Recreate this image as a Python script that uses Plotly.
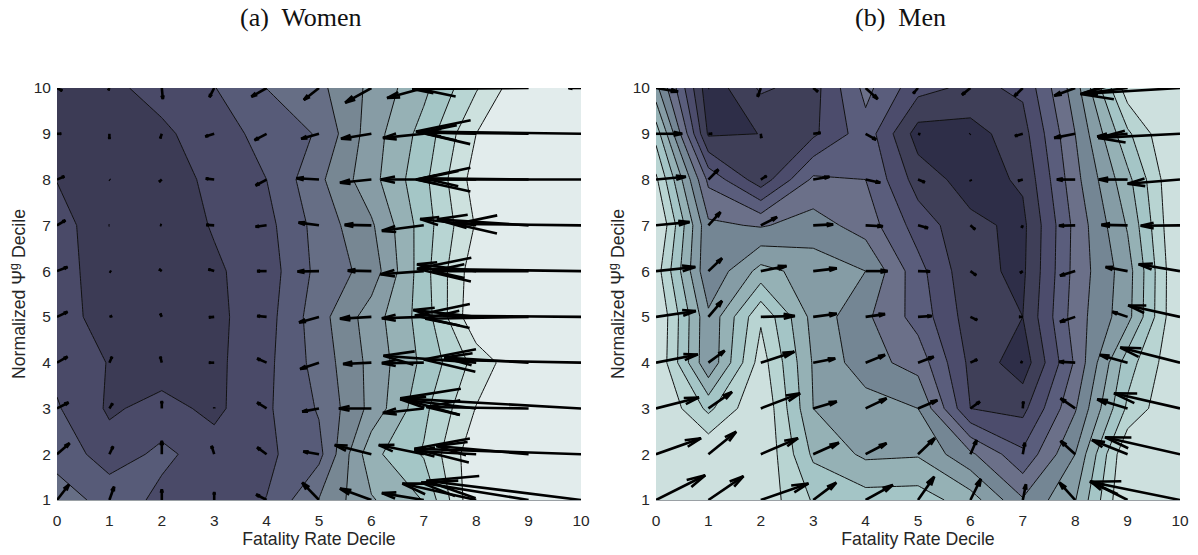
import plotly.graph_objects as go

x_deciles = [0, 1, 2, 3, 4, 5, 6, 7, 8, 9, 10]
y_deciles = [1, 2, 3, 4, 5, 6, 7, 8, 9, 10]
levels_start, levels_end = 1, 10

women_z = [
    [3.4, 2.7, 1.7, 1.5, 2.02, 4.05, 5.9, 7.05, 11.0, 11.2, 11.5],
    [2.7, 1.45, 2.25, 1.45, 1.8, 2.7, 6.7, 8.1, 10.8, 11.2, 11.5],
    [2.1, .85, 1.35, .75, 1.85, 3.1, 5.3, 7.75, 10.05, 11.2, 11.5],
    [1.7, .95, .45, .75, 1.75, 3.4, 5.3, 7.25, 9.35, 11.05, 11.5],
    [1.4, .6, .4, .75, 1.6, 3.6, 5.5, 7.45, 10.9, 11.2, 11.5],
    [1.35, .55, .4, .85, 1.5, 3.3, 4.4, 7.6, 10.7, 11.2, 11.5],
    [1.3, .5, .4, 1.08, 1.68, 3.4, 4.85, 7.5, 10.1, 11.2, 11.5],
    [.98, .7, .5, 1.25, 2.0, 3.78, 5.65, 7.73, 10.5, 11.2, 11.5],
    [.3, .5, .8, 1.54, 2.33, 3.1, 5.52, 7.38, 10.0, 11.2, 11.5],
    [.4, .77, 1.37, 1.96, 3.01, 3.75, 5.24, 6.75, 8.9, 11.1, 11.5],
]
women_u = [
    [.23, .09, 0, 0, -.2, -.32, -.6, -.8, -1.41, -2.05, -2.95],
    [.24, .07, 0, -.05, -.18, -.3, -.7, -.86, -1.18, -1.76, -3.18],
    [.22, .06, 0, 0, -.18, -.32, -.62, -.78, -1.45, -1.95, -3.45],
    [.2, .05, -.03, -.1, -.18, -.36, -.54, -.8, -1.77, -1.61, -3.0],
    [.2, .05, -.03, -.1, -.18, -.38, -.6, -.8, -1.2, -1.97, -3.17],
    [.2, .03, -.05, -.11, -.18, -.41, -.45, -.83, -1.13, -1.83, -3.13],
    [.16, -.01, -.03, -.15, -.21, -.39, -.51, -.8, -1.07, -1.75, -2.39],
    [.14, .01, -.05, -.16, -.21, -.43, -.6, -.82, -1.13, -2.0, -3.15],
    [.08, 0, -.03, -.17, -.23, -.34, -.58, -.78, -1.0, -2.05, -3.15],
    [.1, -.02, .02, -.09, -.29, -.29, -.5, -.7, -1.22, -2.08, -.24],
]
women_v = [
    [.34, .29, .23, .17, .12, .38, .25, .15, .36, .38, .42],
    [.24, .17, .29, .18, .15, .06, .2, .2, .07, .18, .12],
    [.13, .11, .16, .02, .13, -.07, 0, -.1, .2, .03, .22],
    [.13, .13, .13, 0, .09, -.14, -.03, -.01, .15, .11, .07],
    [.11, .02, .07, -.01, .02, -.12, -.04, -.03, .15, -.04, .03],
    [.09, -.02, .04, .04, 0, -.01, .01, -.07, .15, 0, .05],
    [.11, 0, .01, .01, -.03, .06, .01, -.12, .14, .13, .03],
    [.07, -.01, -.05, .02, -.13, .03, -.07, 0, 0, .03, 0],
    [0, -.11, -.1, -.06, -.14, -.11, -.11, -.09, .03, .03, .05],
    [-.06, -.05, -.24, -.2, -.19, -.26, -.32, -.22, -.02, -.02, 0],
]

men_z = [
    [11.3, 11.2, 10.7, 8.9, 8.45, 8.5, 7.5, 5.1, 6.95, 11.2, 11.3],
    [11.3, 11.0, 11.0, 7.8, 6.8, 6.9, 5.2, 3.2, 6.0, 11.0, 11.3],
    [11.2, 8.75, 11.0, 7.0, 6.5, 6.0, 2.0, 1.7, 4.9, 9.2, 11.2],
    [11.0, 6.15, 10.5, 6.9, 5.4, 4.6, 1.75, .4, 4.15, 8.55, 11.0],
    [11.1, 6.2, 9.85, 6.65, 5.2, 3.6, 1.5, 1.0, 4.5, 6.65, 11.2],
    [10.5, 5.15, 7.35, 6.55, 6.0, 3.35, 1.25, .82, 4.35, 6.55, 11.2],
    [11.27, 5.2, 4.9, 5.45, 4.55, 2.55, 1.25, .75, 4.3, 7.1, 11.3],
    [10.2, 3.75, 1.4, 4.2, 4.0, 1.55, .55, 1.15, 4.67, 7.7, 11.3],
    [8.6, .85, 1.01, 1.8, 3.6, .55, .6, 1.6, 5.0, 8.8, 11.5],
    [6.3, .3, 2.15, 1.6, 4.3, 2.35, 1.75, 2.18, 5.52, 10.6, 11.2],
]
men_u = [
    [.94, .67, .91, .44, .52, .31, .2, .06, -.3, -.71, -1.72],
    [.86, .53, .71, .49, .4, .32, .12, .04, -.28, -.68, -1.43],
    [.82, .45, .75, .45, .4, .37, .18, .01, -.28, -.58, -1.26],
    [.8, .31, .64, .42, .37, .3, .13, -.04, -.31, -.53, -1.14],
    [.76, .26, .65, .45, .37, .26, .13, -.07, -.29, -.29, -.99],
    [.75, .26, .49, .45, .42, .23, .11, -.05, -.29, -.42, -.79],
    [.64, .23, .31, .38, .33, .19, .09, -.02, -.31, -.5, -.75],
    [.57, .19, .11, .31, .28, .13, .01, -.09, -.35, -.55, -1.0],
    [.5, .07, .01, .14, .2, .04, -.01, -.15, -.4, -.58, -1.56],
    [.42, .01, -.06, .09, .23, -.09, -.16, -.16, -.4, -.86, -1.9],
]
men_v = [
    [.54, .52, .36, .38, .33, .51, .46, .34, .38, .41, .4],
    [.35, .49, .35, .25, .24, .35, .31, .25, .29, .31, .37],
    [.24, .36, .33, .15, .22, .18, .15, .15, .22, .2, .33],
    [.18, .26, .24, .09, .17, .13, .07, .02, .02, .17, .33],
    [.13, .35, .02, .07, .06, .02, -.07, 0, -.11, .11, .25],
    [.09, .28, .11, .06, 0, -.01, -.09, -.04, -.1, .09, .15],
    [.07, .29, .18, .02, -.02, -.06, -.09, -.05, -.01, .01, -.01],
    [.06, .22, .08, .06, -.07, -.06, -.03, -.03, 0, 0, -.09],
    [0, 0, -.09, .02, -.13, -.01, -.01, -.05, -.09, -.06, -.09],
    [-.08, 0, -.19, -.08, -.24, -.12, -.15, -.18, -.17, -.12, -.13],
]

women_colors = ["#3c3b55", "#4a4a68", "#575b78", "#666e85", "#778793", "#879ca5",
                "#96b1b5", "#a4c6c6", "#b8d5d3", "#cde1de", "#e2ecec"]
men_colors = ["#2e2e48", "#3f3f58", "#4c4c6c", "#5a5d7c", "#6b7089", "#748694",
              "#859ca5", "#95b1b5", "#a4c5c6", "#b8d4d2", "#cde0de"]
panel_titles = ["(a)&nbsp; Women", "(b)&nbsp; Men"]
x_title = "Fatality Rate Decile"
y_title = "Normalized &#936;<sup>g</sup> Decile"

W, H = 1198, 555
ALPHA, BETA = 0.33, 0.25


def stepped(colors):
    n = len(colors)
    scale = []
    for i, c in enumerate(colors):
        scale += [[i / n, c], [(i + 1) / n, c]]
    return scale


def quiver(u, v):
    xs, ys = [], []
    for j, yy in enumerate(y_deciles):
        for i, xx in enumerate(x_deciles):
            du, dv = u[j][i], v[j][i]
            tx, ty = xx + du, yy + dv
            xs += [xx, tx, None,
                   tx - ALPHA * (du + BETA * dv), tx, tx - ALPHA * (du - BETA * dv), None]
            ys += [yy, ty, None,
                   ty - ALPHA * (dv - BETA * du), ty, ty - ALPHA * (dv + BETA * du), None]
    return xs, ys


fig = go.Figure()
panels = [("x", "y", women_z, women_u, women_v, women_colors),
          ("x2", "y2", men_z, men_u, men_v, men_colors)]
for xa, ya, z, u, v, cols in panels:
    fig.add_trace(go.Contour(
        x=x_deciles, y=y_deciles, z=z, xaxis=xa, yaxis=ya,
        colorscale=stepped(cols), zmin=0, zmax=11, zauto=False, showscale=False,
        autocontour=False,
        contours=dict(start=levels_start, end=levels_end, size=1, coloring="fill", showlines=True),
        line=dict(color="#111111", width=1, smoothing=0),
        hoverinfo="skip"))
    qx, qy = quiver(u, v)
    fig.add_trace(go.Scatter(
        x=qx, y=qy, xaxis=xa, yaxis=ya, mode="lines",
        line=dict(color="#000000", width=2.6), hoverinfo="skip", showlegend=False))

tick_font = dict(family="Liberation Sans", size=15.5, color="#262626")
title_font = dict(family="Liberation Sans", size=17.7, color="#262626")
x_common = dict(range=[0, 10], tickmode="array", tickvals=x_deciles, showgrid=False,
                ticks="outside", ticklen=6, tickcolor="rgba(0,0,0,0)",
                zeroline=False, tickfont=tick_font, automargin=False,
                title=dict(text=x_title, font=title_font, standoff=5),
                showline=True, linecolor="#9aa0a4", linewidth=1)
y_common = dict(range=[1, 10], tickmode="array", tickvals=y_deciles,
                ticks="outside", ticklen=2, tickcolor="rgba(0,0,0,0)", showgrid=False,
                zeroline=False, tickfont=tick_font, automargin=False,
                title=dict(text=y_title, font=title_font, standoff=3),
                domain=[1 - 500 / H, 1 - 88 / H])

fig.update_layout(
    width=W, height=H, margin=dict(l=0, r=0, t=0, b=0),
    paper_bgcolor="white", plot_bgcolor="white", showlegend=False,
    xaxis=dict(domain=[57 / W, 581 / W], anchor="y", **x_common),
    yaxis=dict(anchor="x", **y_common),
    xaxis2=dict(domain=[656 / W, 1180 / W], anchor="y2", **x_common),
    yaxis2=dict(anchor="x2", **y_common),
    annotations=[
        dict(text=panel_titles[0], x=301 / W, y=1 - 17 / H, xref="paper", yref="paper",
             xanchor="center", yanchor="middle", showarrow=False,
             font=dict(family="Liberation Serif", size=26, color="#111111")),
        dict(text=panel_titles[1], x=900 / W, y=1 - 17 / H, xref="paper", yref="paper",
             xanchor="center", yanchor="middle", showarrow=False,
             font=dict(family="Liberation Serif", size=26, color="#111111")),
    ],
)

fig.write_html("out.html", config={"displayModeBar": False},
               post_script="document.body.style.margin='0';")
